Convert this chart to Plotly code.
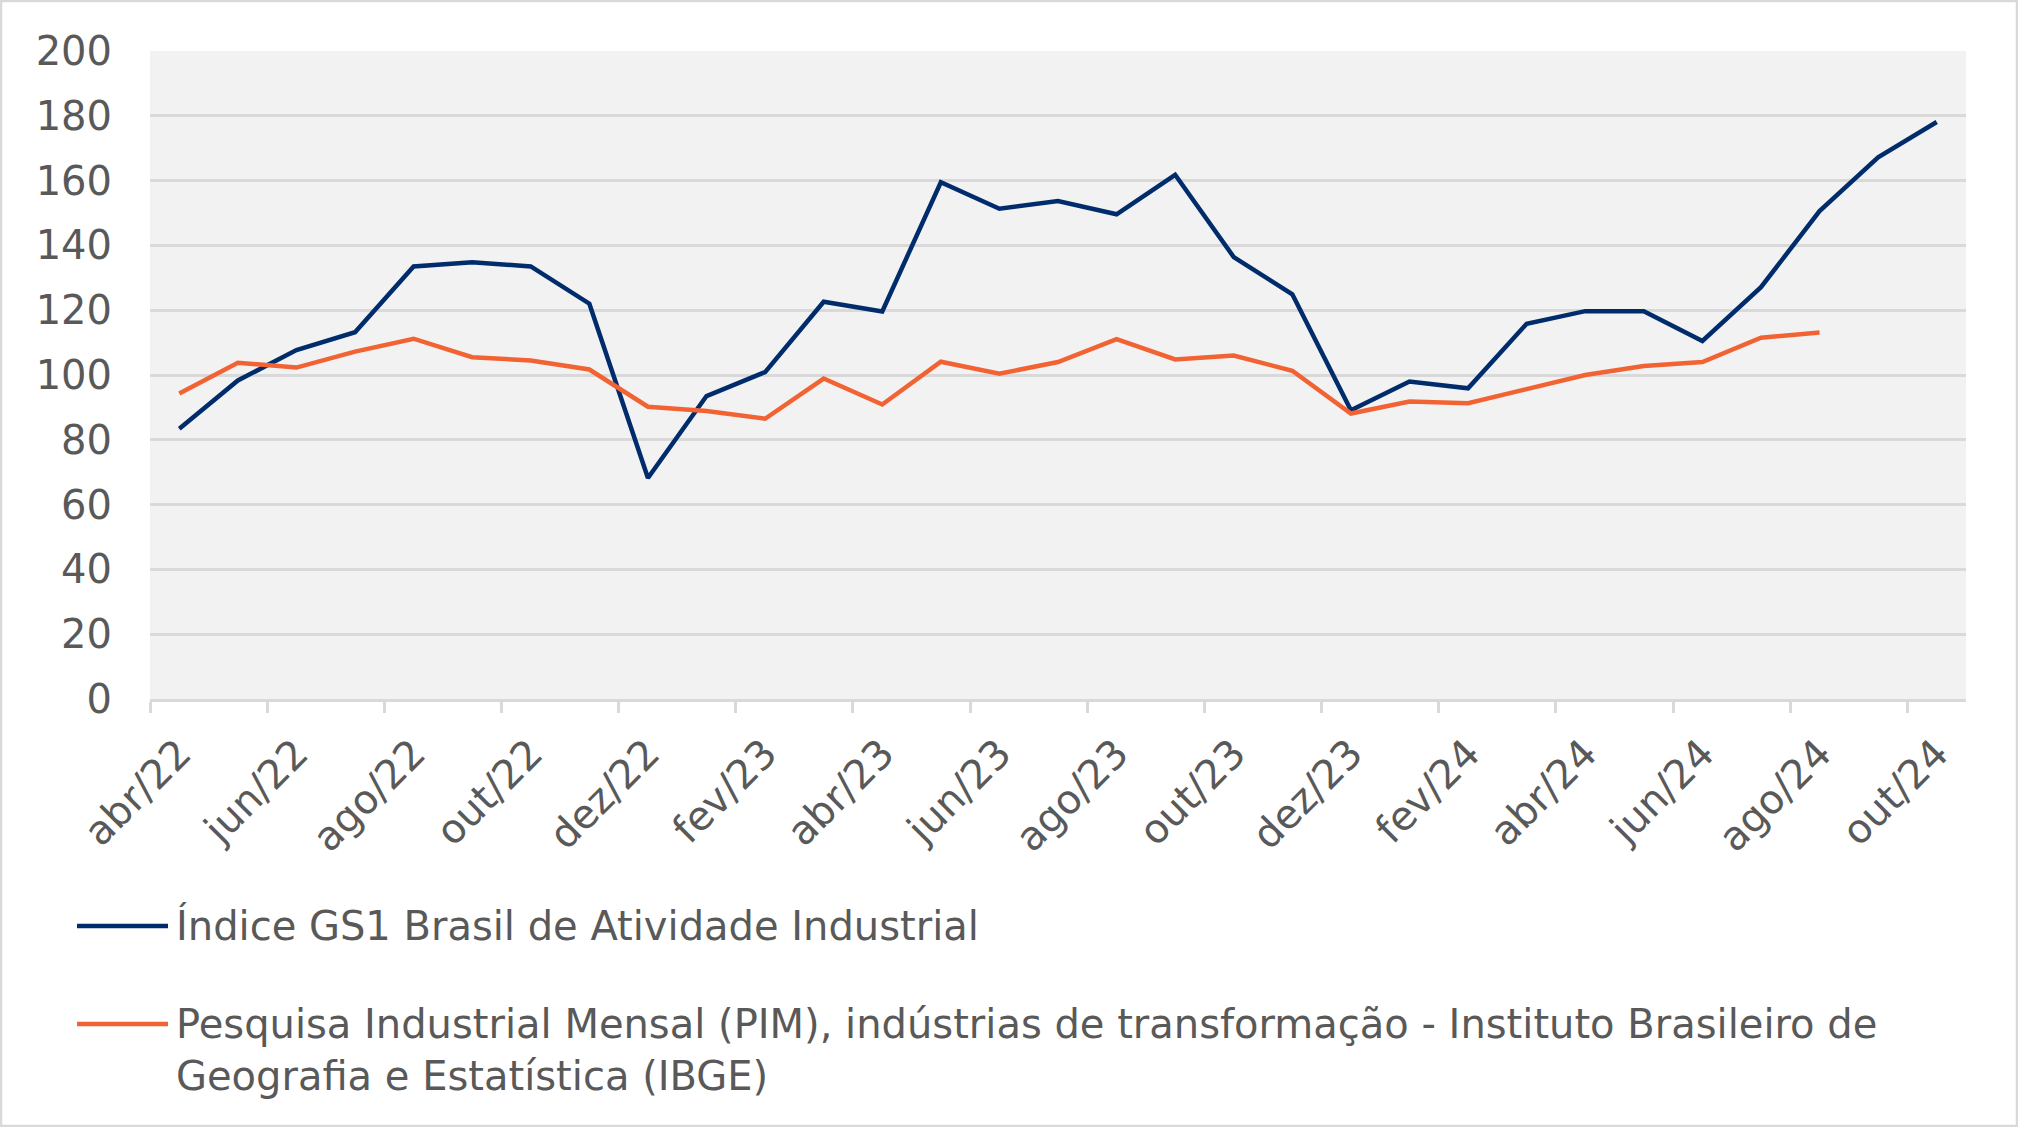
import plotly.graph_objects as go

months = ["abr/22", "mai/22", "jun/22", "jul/22", "ago/22", "set/22", "out/22", "nov/22", "dez/22",
          "jan/23", "fev/23", "mar/23", "abr/23", "mai/23", "jun/23", "jul/23", "ago/23", "set/23",
          "out/23", "nov/23", "dez/23", "jan/24", "fev/24", "mar/24", "abr/24", "mai/24", "jun/24",
          "jul/24", "ago/24", "set/24", "out/24"]

gs1_index = [83.4, 98.3, 107.7, 113.2, 133.5, 134.8, 133.5, 122.0, 68.2,
             93.5, 100.9, 122.6, 119.6, 159.5, 151.3, 153.7, 149.6, 161.8,
             136.4, 124.9, 89.1, 98.0, 95.9, 115.8, 119.7, 119.7, 110.5,
             127.1, 150.6, 167.2, 178.1]

pim_ibge = [94.3, 103.8, 102.3, 107.2, 111.2, 105.5, 104.5, 101.7, 90.2,
            88.9, 86.5, 98.9, 90.9, 104.1, 100.4, 104.0, 111.1, 104.8,
            106.0, 101.3, 88.1, 91.8, 91.3, 95.5, 100.0, 102.8, 104.0,
            111.5, 113.1, None, None]

series_names = ["Índice GS1 Brasil de Atividade Industrial",
                "Pesquisa Industrial Mensal (PIM), indústrias de transformação - Instituto Brasileiro de<br>Geografia e Estatística (IBGE)"]
series_colors = ["#002C6C", "#F26334"]

y_ticks = list(range(0, 201, 20))

W, H = 2018, 1127
L, R, T, B = 150, 52, 51, 428
PW, PH = W - L - R, H - T - B

def px_x(px):
    return (px - L) / PW

def px_y(py):
    return (H - B - py) / PH

FONT = "DejaVu Sans"
TXT = "#595959"
GRID = "#d9d9d9"

idx = list(range(len(months)))

fig = go.Figure()
for vals, name, col in zip([gs1_index, pim_ibge], series_names, series_colors):
    fig.add_trace(go.Scatter(x=idx, y=vals, mode="lines", name=name,
                             line=dict(color=col, width=4.5), showlegend=False,
                             connectgaps=False))

fig.update_layout(
    width=W, height=H,
    margin=dict(l=L, r=R, t=T, b=B, pad=0),
    paper_bgcolor="white",
    plot_bgcolor="#f2f2f2",
    font=dict(family=FONT, color=TXT, size=40),
    xaxis=dict(
        range=[-0.5, len(months) - 0.5],
        tickmode="array",
        tickvals=idx[::2],
        ticktext=months[::2],
        tickangle=-45,
        ticks="outside", ticklen=0, tickcolor=GRID,
        showgrid=False, zeroline=False,
        showline=True, linecolor=GRID, linewidth=2.5,
        tickfont=dict(size=40, color=TXT, family=FONT),
        minor=dict(tickmode="array", tickvals=[i - 0.5 for i in idx[::2]],
                   ticks="outside", ticklen=11, tickcolor=GRID, tickwidth=2.5, showgrid=False),
        ticklabelstandoff=12,
    ),
    yaxis=dict(
        range=[0, 200],
        tickmode="array", tickvals=y_ticks,
        showgrid=True, gridcolor=GRID, gridwidth=2.5,
        zeroline=False, showline=False, ticks="",
        tickfont=dict(size=40, color=TXT, family=FONT),
        ticklabelstandoff=37,
    ),
)

# legend drawn manually below plot
legend_rows = [926, 1049.5]
line_rows = [926, 1024]
shapes = []
annotations = []
for name, col, ty, ly in zip(series_names, series_colors, legend_rows, line_rows):
    shapes.append(dict(type="line", xref="paper", yref="paper",
                       x0=px_x(77), x1=px_x(168), y0=px_y(ly), y1=px_y(ly),
                       line=dict(color=col, width=4.5)))
    annotations.append(dict(text=name, xref="paper", yref="paper",
                            x=px_x(174), y=px_y(ty), xanchor="left", yanchor="middle",
                            align="left", showarrow=False,
                            font=dict(size=40, color=TXT, family=FONT)))

# outer chart border
shapes.append(dict(type="rect", xref="paper", yref="paper",
                   x0=px_x(1), x1=px_x(W - 1), y0=px_y(1), y1=px_y(H - 1),
                   line=dict(color=GRID, width=2.5), fillcolor="rgba(0,0,0,0)", layer="below"))

fig.update_layout(shapes=shapes, annotations=annotations)

fig.write_html("out.html", config={"displayModeBar": False},
               post_script="document.body.style.margin='0';document.body.style.overflow='hidden';")
